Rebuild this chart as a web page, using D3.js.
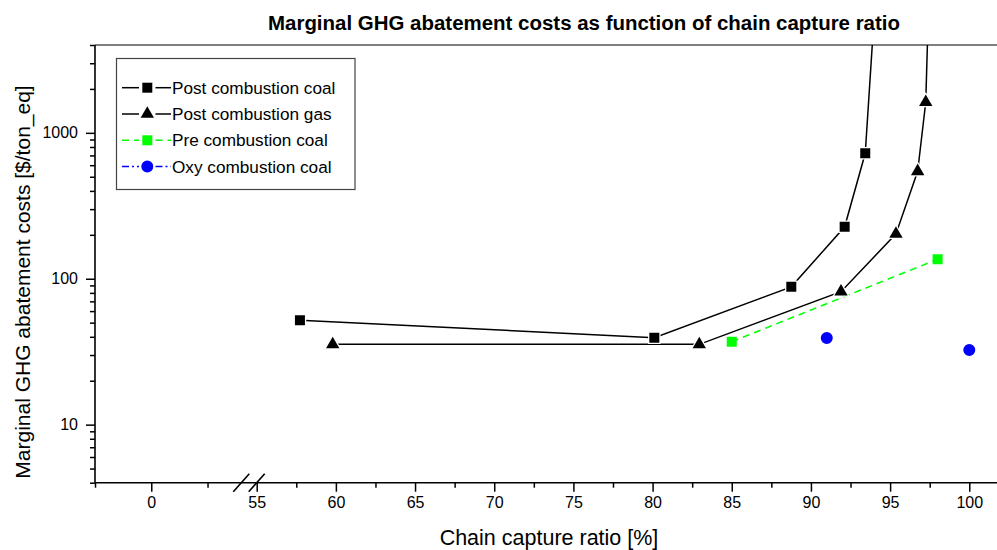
<!DOCTYPE html>
<html>
<head>
<meta charset="utf-8">
<script src="https://cdn.jsdelivr.net/npm/d3@7"></script>
<style>
  html, body { margin: 0; padding: 0; background: #fff; }
  svg { display: block; font-family: "Liberation Sans", Arial, sans-serif; }
</style>
</head>
<body>
<svg id="chart" width="997" height="550"></svg>
<script>
// ---- data ----------------------------------------------------------------
const seriesNames = ["Post combustion coal", "Post combustion gas", "Pre combustion coal", "Oxy combustion coal"];

// chain capture ratio [%] / marginal abatement cost [$/ton_eq]
const postCoalX = [57.73, 80.11, 88.76, 92.13, 93.43, 94.0];
const postCoalY = [52, 39.4, 88, 227, 724, 6500];
const postGasX = [59.8, 82.95, 91.9, 95.37, 96.74, 97.25, 97.5];
const postGasY = [35.5, 35.5, 81.5, 203, 545, 1620, 14000];
const preCoalX = [85.0, 98.0];
const preCoalY = [37.0, 136];
const oxyCoalX = [91.0, 100.0];
const oxyCoalY = [39.3, 32.5];

// axis ticks (x axis is broken between 4 and 55)
const xTicksLow = [0];
const xMinorLow = [-2.5, 2.5];
const xTicksHigh = [55, 60, 65, 70, 75, 80, 85, 90, 95, 100];
const xMinorHigh = [57.5, 62.5, 67.5, 72.5, 77.5, 82.5, 87.5, 92.5, 97.5];
const yTicks = [10, 100, 1000];

// ---- layout --------------------------------------------------------------
const plotLeft = 95, plotRight = 997, plotTop = 45, plotBottom = 482.7;
const breakA = 241.3, breakB = 256.7;

const svg = d3.select("#chart");

const xLow = d3.scaleLinear().domain([-2.5, 4]).range([plotLeft, breakA]);
const xHigh = d3.scaleLinear().domain([55, 101.75]).range([breakB, plotRight]);
const y = d3.scaleLog().domain([4, 4000]).range([plotBottom, plotTop]);

const yMinor = [];
[1, 10, 100, 1000].forEach(d => {
  for (let m = 2; m <= 9; m++) {
    const v = d * m;
    if (v >= 4 && v <= 4000) yMinor.push(v);
  }
});

// ---- axes ----------------------------------------------------------------
const axisColor = "#000";
const tickFont = 16;

function styleAxis(g) {
  g.select(".domain").remove();
  g.selectAll(".tick line").attr("stroke", axisColor).attr("stroke-width", 1.5);
  g.selectAll(".tick text")
    .attr("font-family", "Liberation Sans, Arial, sans-serif")
    .attr("font-size", tickFont)
    .attr("fill", "#000");
}

// x axis: major + minor ticks on both segments
svg.append("g").attr("transform", `translate(0,${plotBottom})`)
  .call(d3.axisBottom(xLow).tickValues(xTicksLow).tickSize(9).tickPadding(5).tickFormat(d3.format("d")))
  .call(styleAxis);
svg.append("g").attr("transform", `translate(0,${plotBottom})`)
  .call(d3.axisBottom(xLow).tickValues(xMinorLow).tickSize(5).tickFormat(""))
  .call(styleAxis);
svg.append("g").attr("transform", `translate(0,${plotBottom})`)
  .call(d3.axisBottom(xHigh).tickValues(xTicksHigh).tickSize(9).tickPadding(5).tickFormat(d3.format("d")))
  .call(styleAxis);
svg.append("g").attr("transform", `translate(0,${plotBottom})`)
  .call(d3.axisBottom(xHigh).tickValues(xMinorHigh).tickSize(5).tickFormat(""))
  .call(styleAxis);

// y axis
svg.append("g").attr("transform", `translate(${plotLeft},0)`)
  .call(d3.axisLeft(y).tickValues(yTicks).tickSize(9).tickPadding(8).tickFormat(d3.format("d")))
  .call(styleAxis);
svg.append("g").attr("transform", `translate(${plotLeft},0)`)
  .call(d3.axisLeft(y).tickValues(yMinor).tickSize(5).tickFormat(""))
  .call(styleAxis);

// frame lines: bottom, left, top
svg.append("line").attr("x1", plotLeft).attr("x2", plotRight).attr("y1", plotBottom).attr("y2", plotBottom)
  .attr("stroke", axisColor).attr("stroke-width", 1.6);
svg.append("line").attr("x1", plotLeft).attr("x2", plotLeft).attr("y1", plotTop).attr("y2", plotBottom)
  .attr("stroke", axisColor).attr("stroke-width", 1.6);
svg.append("line").attr("x1", plotLeft).attr("x2", plotRight).attr("y1", plotTop).attr("y2", plotTop)
  .attr("stroke", axisColor).attr("stroke-width", 1.2);

// axis break marks
[breakA, breakB].forEach(bx => {
  svg.append("line")
    .attr("x1", bx - 8).attr("y1", plotBottom + 9)
    .attr("x2", bx + 8).attr("y2", plotBottom - 9)
    .attr("stroke", "#000").attr("stroke-width", 1.6);
});

// ---- titles --------------------------------------------------------------
svg.append("text")
  .attr("x", 584).attr("y", 30)
  .attr("text-anchor", "middle")
  .attr("font-size", 19.5).attr("font-weight", "bold")
  .attr("textLength", 632).attr("lengthAdjust", "spacingAndGlyphs")
  .text("Marginal GHG abatement costs as function of chain capture ratio");

svg.append("text")
  .attr("x", 549).attr("y", 545)
  .attr("text-anchor", "middle")
  .attr("font-size", 21.5)
  .text("Chain capture ratio [%]");

svg.append("text")
  .attr("transform", "translate(30,282) rotate(-90)")
  .attr("text-anchor", "middle")
  .attr("font-size", 21)
  .text("Marginal GHG abatement costs [$/ton_eq]");

// ---- data marks ----------------------------------------------------------
svg.append("defs").append("clipPath").attr("id", "plotClip")
  .append("rect").attr("x", plotLeft).attr("y", plotTop)
  .attr("width", plotRight - plotLeft).attr("height", plotBottom - plotTop);

const plot = svg.append("g").attr("clip-path", "url(#plotClip)");

const line = d3.line().x(d => xHigh(d[0])).y(d => y(d[1]));
const zip = (xs, ys) => xs.map((v, i) => [v, ys[i]]);

const series = [
  { name: seriesNames[0], pts: zip(postCoalX, postCoalY), color: "#000", dash: null, sym: d3.symbolSquare, size: 100, drawLine: true, halo: true },
  { name: seriesNames[1], pts: zip(postGasX, postGasY), color: "#000", dash: null, sym: d3.symbolTriangle, size: 77, drawLine: true, halo: true },
  { name: seriesNames[2], pts: zip(preCoalX, preCoalY), color: "#00ff00", dash: "7,5", sym: d3.symbolSquare, size: 100, drawLine: true, halo: false },
  { name: seriesNames[3], pts: zip(oxyCoalX, oxyCoalY), color: "#0000ff", dash: "7,3,2,3", sym: d3.symbolCircle, size: 113, drawLine: false, halo: false }
];

series.forEach(s => {
  if (s.drawLine) {
    plot.append("path").datum(s.pts)
      .attr("d", line)
      .attr("fill", "none")
      .attr("stroke", s.color)
      .attr("stroke-width", 1.5)
      .attr("stroke-dasharray", s.dash);
  }
});

series.forEach(s => {
  plot.selectAll(null).data(s.pts).enter().append("path")
    .attr("d", d3.symbol().type(s.sym).size(s.size))
    .attr("transform", d => `translate(${xHigh(d[0])},${y(d[1])})`)
    .attr("fill", s.color)
    .attr("stroke", s.halo ? "#fff" : "none")
    .attr("stroke-width", s.halo ? 2.5 : 0)
    .attr("paint-order", "stroke");
});

// ---- legend --------------------------------------------------------------
const legend = svg.append("g");
legend.append("rect")
  .attr("x", 116.5).attr("y", 58.5).attr("width", 238.5).attr("height", 131)
  .attr("fill", "#fff").attr("stroke", "#444").attr("stroke-width", 1.2);

const rowY = [87.7, 114, 140.3, 166.6];
series.forEach((s, i) => {
  const ry = rowY[i];
  const g = legend.append("g");
  [[122, 139], [155.5, 171]].forEach(seg => {
    g.append("line")
      .attr("x1", seg[0]).attr("x2", seg[1]).attr("y1", ry).attr("y2", ry)
      .attr("stroke", s.color).attr("stroke-width", 1.5)
      .attr("stroke-dasharray", s.dash);
  });
  g.append("path")
    .attr("d", d3.symbol().type(s.sym).size(s.size))
    .attr("transform", `translate(147.3,${ry})`)
    .attr("fill", s.color);
  g.append("text")
    .attr("x", 172).attr("y", ry)
    .attr("dy", "0.35em")
    .attr("font-size", 17.2)
    .text(s.name);
});
</script>
</body>
</html>
